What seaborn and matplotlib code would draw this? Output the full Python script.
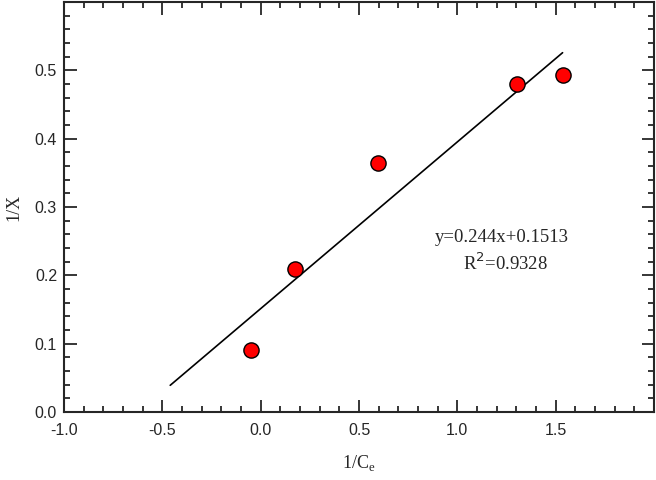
import numpy as np
import pandas as pd
import matplotlib
matplotlib.use('Agg')
import matplotlib.pyplot as plt
from matplotlib.ticker import MultipleLocator, FuncFormatter
import seaborn as sns

# dados
inv_ce = [-0.047, 0.173, 0.599, 1.301, 1.535]
inv_x = [0.091, 0.209, 0.364, 0.480, 0.493]

# reta ajustada y = 0.244x + 0.1513
slope = 0.244
intercept = 0.1513
fit_x = [-0.46, 1.535]
eq_text = 'y=0.244x+0.1513'
r2_text = 'R$^2$=0.9328'

df = pd.DataFrame({'x': inv_ce, 'y': inv_x})
df_fit = pd.DataFrame({'x': fit_x, 'y': [slope * v + intercept for v in fit_x]})

sns.set_style('ticks')
plt.rcParams['font.family'] = ['Liberation Sans', 'DejaVu Sans']
serif = ['Liberation Serif', 'DejaVu Serif']

fig = plt.figure(figsize=(6.56, 4.8), dpi=100)
ax = fig.add_axes([0.0976, 0.1417, 0.8994, 0.8541])

sns.lineplot(data=df_fit, x='x', y='y', color='black', linewidth=1.2, ax=ax, zorder=2)
sns.scatterplot(data=df, x='x', y='y', color='red', edgecolor='black', linewidth=1.0,
                s=120, ax=ax, zorder=3)

ax.set_xlim(-1.0, 2.0)
ax.set_ylim(0.0, 0.6)
ax.xaxis.set_major_locator(MultipleLocator(0.5))
ax.xaxis.set_minor_locator(MultipleLocator(0.1))
ax.yaxis.set_major_locator(MultipleLocator(0.1))
ax.yaxis.set_minor_locator(MultipleLocator(0.02))

# esconde o último rótulo (2.0 e 0.6), como no original
ax.xaxis.set_major_formatter(FuncFormatter(lambda v, p: '' if v > 1.9 else f'{v:.1f}'))
ax.yaxis.set_major_formatter(FuncFormatter(lambda v, p: '' if v > 0.55 else f'{v:.1f}'))

ax.tick_params(which='both', direction='in', top=True, right=True, width=1.3, labelsize=11.5)
ax.tick_params(which='major', length=9)
ax.tick_params(which='minor', length=4.5)
ax.tick_params(axis='x', which='major', pad=8)
ax.tick_params(axis='y', which='major', pad=5)
for sp in ax.spines.values():
    sp.set_linewidth(1.5)

ax.set_xlabel('1/C$_\\mathregular{e}$', family=serif, fontsize=13, labelpad=11)
ax.set_ylabel('1/X', family=serif, fontsize=13, labelpad=9)

ax.text(1.228, 0.256, eq_text, family=serif, fontsize=13.5, ha='center', va='center')
ax.text(1.244, 0.218, r2_text, family=serif, fontsize=13.5, ha='center', va='center')

plt.savefig('out.png', dpi=100)
